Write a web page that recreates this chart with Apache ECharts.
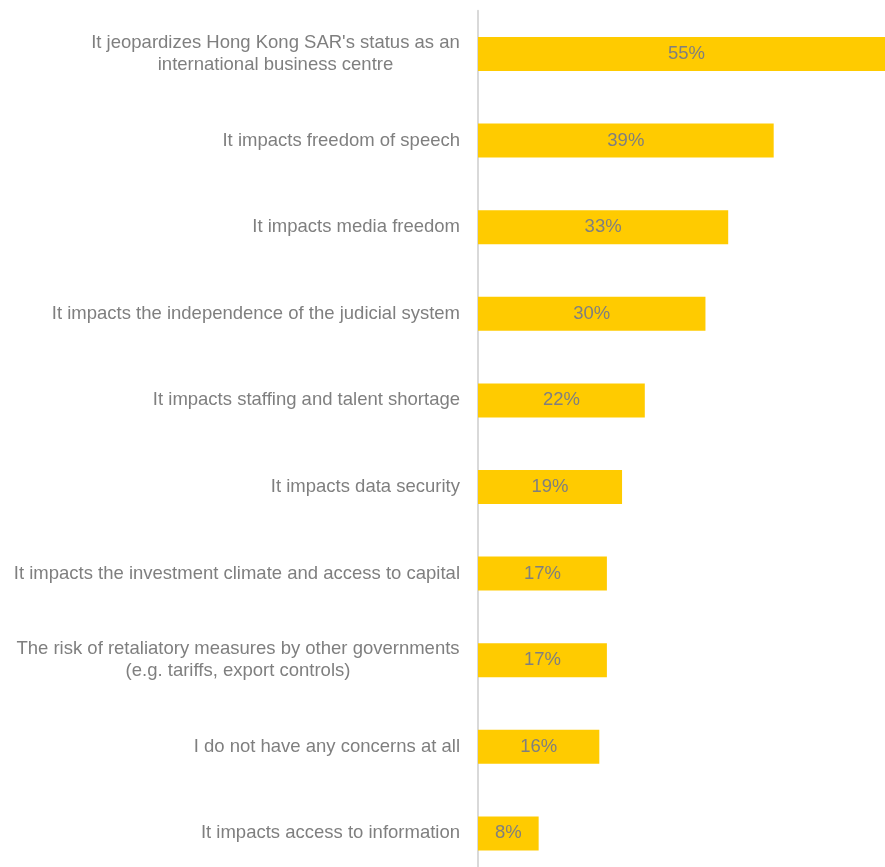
<!DOCTYPE html>
<html><head><meta charset="utf-8">
<script src="https://cdn.jsdelivr.net/npm/echarts@6/dist/echarts.min.js"></script>
<style>html,body{margin:0;padding:0;background:#fff}#c{width:885px;height:867px}</style>
</head><body><div id="c"></div>
<script>
const categories = [
  "It jeopardizes Hong Kong SAR's status as an\ninternational business centre",
  "It impacts freedom of speech",
  "It impacts media freedom",
  "It impacts the independence of the judicial system",
  "It impacts staffing and talent shortage",
  "It impacts data security",
  "It impacts the investment climate and access to capital",
  "The risk of retaliatory measures by other governments\n(e.g. tariffs, export controls)",
  "I do not have any concerns at all",
  "It impacts access to information"
];
const values = [55, 39, 33, 30, 22, 19, 17, 17, 16, 8];

const FONT = 'Liberation Sans';
const FS = 18.5;
const ctx = document.createElement('canvas').getContext('2d');
ctx.font = FS + 'px ' + FONT;
const rich = {};
const labelMap = {};
categories.forEach((c, i) => {
  const lines = c.split('\n');
  if (lines.length > 1) {
    const w = Math.ceil(Math.max(...lines.map(l => ctx.measureText(l).width)));
    rich['r' + i] = {width: w, align: 'center', color: '#7f7f7f', fontFamily: FONT, fontSize: FS, lineHeight: 22};
    labelMap[c] = lines.map(l => '{r' + i + '|' + l + '}').join('\n');
  }
});

const chart = echarts.init(document.getElementById('c'), null, {renderer: 'canvas'});
chart.setOption({
  animation: false,
  grid: {left: 478, top: 10.7, width: 417, height: 866, containLabel: false, outerBoundsMode: 'none'},
  xAxis: {type: 'value', min: 0, max: 55, show: false},
  yAxis: {
    type: 'category', data: categories, inverse: true,
    axisLine: {show: true, lineStyle: {color: '#d9d9d9', width: 2}},
    axisTick: {show: false},
    axisLabel: {color: '#7f7f7f', fontFamily: FONT, fontSize: FS, margin: 18, align: 'right', lineHeight: 22,
      formatter: v => labelMap[v] || v, rich: rich}
  },
  series: [{
    type: 'bar', data: values, barWidth: 34,
    itemStyle: {color: '#FFCB00'},
    label: {show: true, position: 'inside', formatter: '{c}%', color: '#7f7f7f', fontFamily: FONT, fontSize: FS}
  }]
});
</script></body></html>
